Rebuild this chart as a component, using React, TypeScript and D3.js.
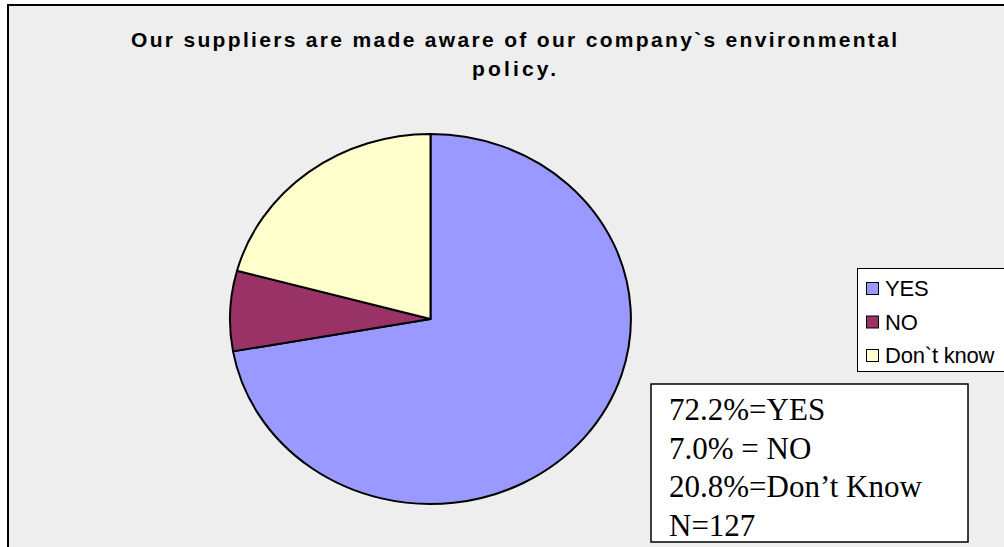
import React from "react";
import * as d3 from "d3";

const categories = ["YES", "NO", "Don`t know"];
const values = [72.2, 7.0, 20.8];
const colors = ["#9999FF", "#993366", "#FFFFCC"];
const titleLines = ["Our suppliers are made aware of our company`s environmental", "policy."];
const noteLines = ["72.2%=YES", "7.0% = NO", "20.8%=Don\u2019t Know", "N=127"];

export default function App() {
  const W = 1004, H = 547;
  const cx = 430.5, cy = 319, rx = 200.5, ry = 185;
  const pie = d3.pie<number>().sort(null).value((d) => d);
  const arcs = pie(values);
  const arc = d3.arc<d3.PieArcDatum<number>>().innerRadius(0).outerRadius(1);
  const titleWidths = [766, 84];
  return (
    <svg width={W} height={H} style={{ position: "absolute", left: 0, top: 0 }}>
      <rect x={0} y={0} width={W} height={H} fill="#ffffff" />
      <rect x={8} y={5} width={W + 20} height={H + 20} fill="#EEEEEE" stroke="#000" strokeWidth={2} />
      {titleLines.map((t, i) => (
        <text key={i} x={514} y={47 + i * 29} textAnchor="middle" fontFamily="Liberation Sans, Arial, sans-serif"
          fontWeight="bold" fontSize={21} textLength={titleWidths[i]} lengthAdjust="spacing" fill="#000">{t}</text>
      ))}
      <g transform={`translate(${cx},${cy}) scale(${rx},${ry})`}>
        {arcs.map((a, i) => (
          <path key={i} d={arc(a) || ""} fill={colors[i]} stroke="#000" strokeWidth={2}
            vectorEffect="non-scaling-stroke" strokeLinejoin="round" />
        ))}
      </g>
      <rect x={857.5} y={268.5} width={160} height={103} fill="#FFFFFF" stroke="#000" strokeWidth={1} />
      {categories.map((c, i) => (
        <g key={c}>
          <rect x={866.5} y={282.5 + i * 33.5} width={12} height={12} fill={colors[i]} stroke="#000" strokeWidth={1} />
          <text x={885} y={296 + i * 33.5} fontFamily="Liberation Sans, Arial, sans-serif" fontSize={22}
            letterSpacing={-0.2} fill="#000">{c}</text>
        </g>
      ))}
      <rect x={651} y={384} width={317} height={158} fill="#FFFFFF" stroke="#000" strokeWidth={1.5} />
      {noteLines.map((t, i) => (
        <text key={i} x={669} y={420 + i * 38.5} fontFamily="Liberation Serif, Times New Roman, serif" fontSize={31}
          fill="#000">{t}</text>
      ))}
    </svg>
  );
}
